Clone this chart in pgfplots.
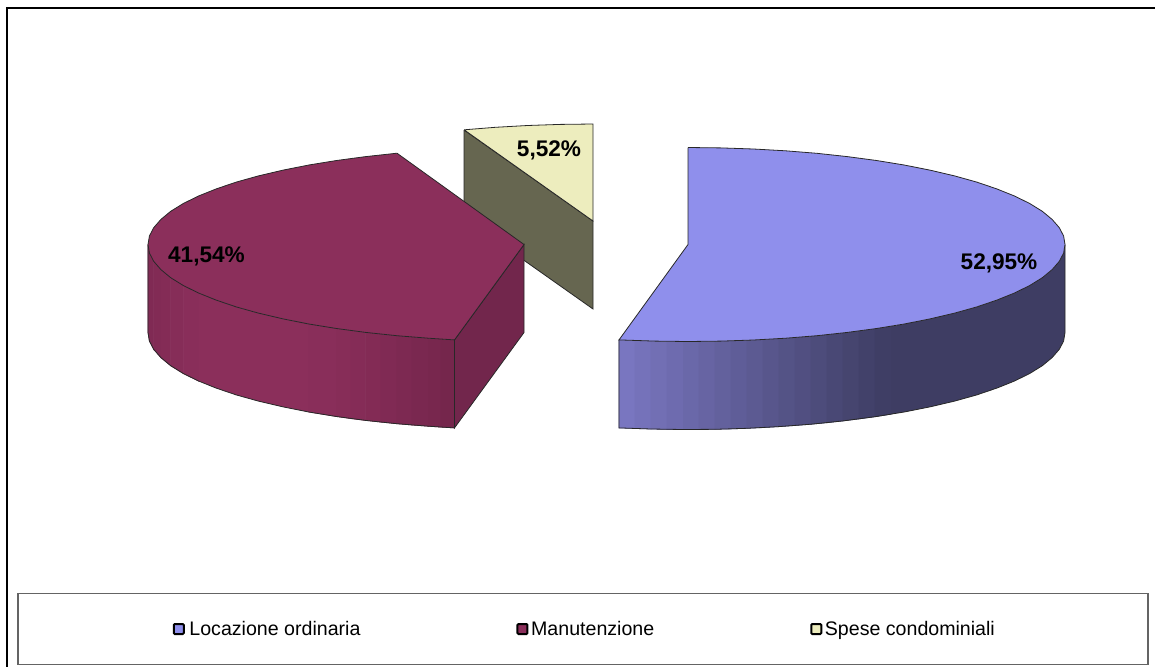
\documentclass[border=0pt]{standalone}
\usepackage{pgfplots}
\pgfplotsset{compat=1.18}
\usepackage{fontspec}
\setmainfont{Liberation Sans}
\definecolor{bluetop}{RGB}{143,143,236}
\definecolor{bluewall}{RGB}{62,61,99}
\definecolor{martop}{RGB}{139,47,91}
\definecolor{marside}{RGB}{114,38,76}
\definecolor{yeltop}{RGB}{237,237,190}
\definecolor{yelwall}{RGB}{102,102,80}
\definecolor{edge}{RGB}{40,40,40}
\begin{document}
\begin{tikzpicture}
\path[use as bounding box] (0,0) rectangle (1155pt,667pt);
\begin{axis}[
  at={(0,0)},anchor=south west,
  scale only axis,width=1155pt,height=667pt,
  xmin=0,xmax=1155,ymin=0,ymax=667,y dir=reverse,
  hide axis,clip=false,
  legend columns=3,
  legend cell align=left,
  legend style={at={(axis cs:583,629)},anchor=center,draw={rgb,255:red,100;green,100;blue,100},line width=1.3pt,
    inner xsep=151pt,inner ysep=25.5pt,font=\fontsize{19.6}{24}\selectfont,
    /tikz/every even column/.append style={column sep=154pt}},
  legend image code/.code={\draw[#1,draw=black,line width=2pt,rounded corners=1pt] (0pt,-5pt) rectangle (10pt,5pt); \path (11pt,0pt);},
]
\addlegendimage{legend image code/.code={\draw[fill=bluetop,draw=black,line width=2pt,rounded corners=1pt] (0pt,-5pt) rectangle (10pt,5pt); \path (-4pt,0pt) (13pt,0pt);}}
\addlegendimage{fill=martop}
\addlegendimage{fill=yeltop}

% outer frame: only the top and left edges are in the picture
\addplot[forget plot,draw=black,line width=1.1pt] coordinates {(1155,8)(7,8)(7,667)};

% yellow slice
\addplot[forget plot,fill=yelwall,draw=edge,line width=.8pt] coordinates {(464,130)(593,221)(593,309)(464,218)(464,130)};
\addplot[forget plot,fill=yeltop,draw=edge,line width=.8pt] coordinates {(464.1,129.8)(495.4,127.3)(527.5,125.5)(560.1,124.4)(593,124)(593,221)(464.1,129.8)};

% maroon slice: side face
\addplot[forget plot,fill=marside,draw=edge,line width=.8pt] coordinates {(454.5,339.9)(524,244.5)(524,332.5)(454.5,427.9)(454.5,339.9)};
% maroon slice: front wall
\addplot[forget plot,surf,shader=faceted,faceted color=mapped color,line width=.7pt,mesh/rows=2,mesh/color input=explicit] table[x=x,y=y,meta=c] {
x y c
148 244.5 rgb255=128,42,84
149.4 253.0 rgb255=128,42,84
153.7 261.3 rgb255=129,43,85
160.9 269.6 rgb255=131,44,86
170.7 277.7 rgb255=133,45,87
183.3 285.5 rgb255=136,46,89
198.5 293.0 rgb255=139,47,91
148 332.5 rgb255=128,42,84
149.4 341.0 rgb255=128,42,84
153.7 349.3 rgb255=129,43,85
160.9 357.6 rgb255=131,44,86
170.7 365.7 rgb255=133,45,87
183.3 373.5 rgb255=136,46,89
198.5 381.0 rgb255=139,47,91
};
\addplot[forget plot,fill=martop,draw=none] coordinates {(198.5,293.0)(216.2,300.1)(236.2,306.9)(258.4,313.1)(282.7,318.8)(308.8,324.0)(308.8,412.0)(282.7,406.8)(258.4,401.1)(236.2,394.9)(216.2,388.1)(198.5,381.0)(198.5,293.0)};
\addplot[forget plot,surf,shader=faceted,faceted color=mapped color,line width=.7pt,mesh/rows=2,mesh/color input=explicit] table[x=x,y=y,meta=c] {
x y c
308.8 324.0 rgb255=139,47,91
336.5 328.5 rgb255=136,46,89
351 330.6 rgb255=134,45,88
365.7 332.4 rgb255=132,44,86
381 334.1 rgb255=130,43,85
396.9 335.7 rgb255=127,42,83
412 337.0 rgb255=124,41,81
428.4 338.2 rgb255=121,40,79
441 339.1 rgb255=119,39,77
454.5 339.9 rgb255=116,38,75
308.8 412.0 rgb255=139,47,91
336.5 416.5 rgb255=136,46,89
351 418.6 rgb255=134,45,88
365.7 420.4 rgb255=132,44,86
381 422.1 rgb255=130,43,85
396.9 423.7 rgb255=127,42,83
412 425.0 rgb255=124,41,81
428.4 426.2 rgb255=121,40,79
441 427.1 rgb255=119,39,77
454.5 427.9 rgb255=116,38,75
};
\addplot[forget plot,draw=edge,line width=.8pt] coordinates {(148,244.5)(148,332.5)(149.4,341.0)(153.7,349.3)(160.9,357.6)(170.7,365.7)(183.3,373.5)(198.5,381.0)(216.2,388.1)(236.2,394.9)(258.4,401.1)(282.7,406.8)(308.8,412.0)(336.5,416.5)(365.7,420.4)(396.9,423.7)(428.4,426.2)(454.5,427.9)(454.5,339.9)};
% maroon slice: top
\addplot[forget plot,fill=martop,draw=edge,line width=.8pt] coordinates {(397,153.2)(365.7,156.6)(336.5,160.5)(308.8,165.0)(282.7,170.2)(258.4,175.9)(236.2,182.1)(216.2,188.9)(198.5,196.0)(183.3,203.5)(170.7,211.3)(160.9,219.4)(153.7,227.7)(149.4,236.0)(148,244.5)(149.4,253.0)(153.7,261.3)(160.9,269.6)(170.7,277.7)(183.3,285.5)(198.5,293.0)(216.2,300.1)(236.2,306.9)(258.4,313.1)(282.7,318.8)(308.8,324.0)(336.5,328.5)(365.7,332.4)(396.9,335.7)(428.4,338.2)(454.5,339.9)(524,244.5)(397,153.2)};

% blue slice: wall
\addplot[forget plot,surf,shader=faceted,faceted color=mapped color,line width=.7pt,mesh/rows=2,mesh/color input=explicit] table[x=x,y=y,meta=c] {
x y c
619 339.9 rgb255=123,120,195
635 340.5 rgb255=119,116,189
651 341.0 rgb255=116,113,183
667 341.4 rgb255=112,109,178
683 341.5 rgb255=108,106,172
699 341.5 rgb255=105,102,166
715 341.3 rgb255=101,99,160
731 340.9 rgb255=97,95,155
747 340.3 rgb255=94,92,149
763 339.6 rgb255=90,88,143
779 338.6 rgb255=86,85,137
795 337.5 rgb255=83,81,132
811 336.2 rgb255=79,78,126
827 334.7 rgb255=75,74,120
843 332.9 rgb255=72,71,114
859 330.9 rgb255=68,67,109
875 328.7 rgb255=64,64,103
891 326.2 rgb255=62,61,99
619 427.9 rgb255=123,120,195
635 428.5 rgb255=119,116,189
651 429.0 rgb255=116,113,183
667 429.4 rgb255=112,109,178
683 429.5 rgb255=108,106,172
699 429.5 rgb255=105,102,166
715 429.3 rgb255=101,99,160
731 428.9 rgb255=97,95,155
747 428.3 rgb255=94,92,149
763 427.6 rgb255=90,88,143
779 426.6 rgb255=86,85,137
795 425.5 rgb255=83,81,132
811 424.2 rgb255=79,78,126
827 422.7 rgb255=75,74,120
843 420.9 rgb255=72,71,114
859 418.9 rgb255=68,67,109
875 416.7 rgb255=64,64,103
891 414.2 rgb255=62,61,99
};
\addplot[forget plot,fill=bluewall,draw=none] coordinates {(891,326.2)(904.2,324.0)(930.3,318.8)(954.6,313.1)(976.8,306.9)(996.8,300.1)(1014.5,293.0)(1029.7,285.5)(1042.3,277.7)(1052.1,269.6)(1059.3,261.3)(1063.6,253.0)(1065,244.5)(1065,332.5)(1063.6,341.0)(1059.3,349.3)(1052.1,357.6)(1042.3,365.7)(1029.7,373.5)(1014.5,381.0)(996.8,388.1)(976.8,394.9)(954.6,401.1)(930.3,406.8)(904.2,412.0)(891,414.2)(891,326.2)};
\addplot[forget plot,draw=edge,line width=.8pt] coordinates {(619,339.9)(619,427.9)(651,429.0)(683,429.5)(715,429.3)(747,428.3)(779,426.6)(811,424.2)(843,420.9)(875,416.7)(904.2,412.0)(930.3,406.8)(954.6,401.1)(976.8,394.9)(996.8,388.1)(1014.5,381.0)(1029.7,373.5)(1042.3,365.7)(1052.1,357.6)(1059.3,349.3)(1063.6,341.0)(1065,332.5)(1065,244.5)};
% blue slice: top
\addplot[forget plot,fill=bluetop,draw=edge,line width=.8pt] coordinates {(688,147.5)(720.9,147.9)(753.5,149.0)(785.6,150.8)(816.9,153.3)(847.3,156.6)(876.5,160.5)(904.2,165.0)(930.3,170.2)(954.6,175.9)(976.8,182.1)(996.8,188.9)(1014.5,196.0)(1029.7,203.5)(1042.3,211.3)(1052.1,219.4)(1059.3,227.7)(1063.6,236.0)(1065,244.5)(1063.6,253.0)(1059.3,261.3)(1052.1,269.6)(1042.3,277.7)(1029.7,285.5)(1014.5,293.0)(996.8,300.1)(976.8,306.9)(954.6,313.1)(930.3,318.8)(904.2,324.0)(876.5,328.5)(847.3,332.4)(816.9,335.7)(785.6,338.2)(753.5,340.0)(720.9,341.1)(688,341.5)(655.1,341.1)(619,339.9)(688,244.5)(688,147.5)};

\node[font=\bfseries\fontsize{22.6}{26}\selectfont] at (axis cs:549,150.5) {5,52\%};
\node[font=\bfseries\fontsize{22.6}{26}\selectfont] at (axis cs:206.5,256.5) {41,54\%};
\node[font=\bfseries\fontsize{22.6}{26}\selectfont] at (axis cs:999,263.5) {52,95\%};

\legend{Locazione ordinaria,Manutenzione,Spese condominiali}
\end{axis}
\end{tikzpicture}
\end{document}
